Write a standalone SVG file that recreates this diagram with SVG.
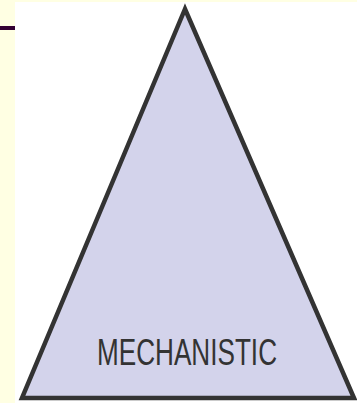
<svg xmlns="http://www.w3.org/2000/svg" width="357" height="403" viewBox="0 0 357 403">
<style>
.tri{fill:#D3D3EB;stroke:#333333;stroke-width:4.5;stroke-linejoin:miter}
.lbl{font-family:"Liberation Sans",Arial,sans-serif;font-size:37px;fill:#333333}
</style>
<rect x="0" y="0" width="357" height="403" fill="#FFFFE3"/>
<rect x="15" y="2" width="342" height="401" fill="#FFFFFF"/>
<rect x="0" y="26" width="15" height="4" fill="#330033"/>
<g id="triangle">
<polygon class="tri" points="185,9 22,398 354,398"/>
<text class="lbl" x="97" y="365" textLength="180" lengthAdjust="spacingAndGlyphs">MECHANISTIC</text>
</g>
</svg>
